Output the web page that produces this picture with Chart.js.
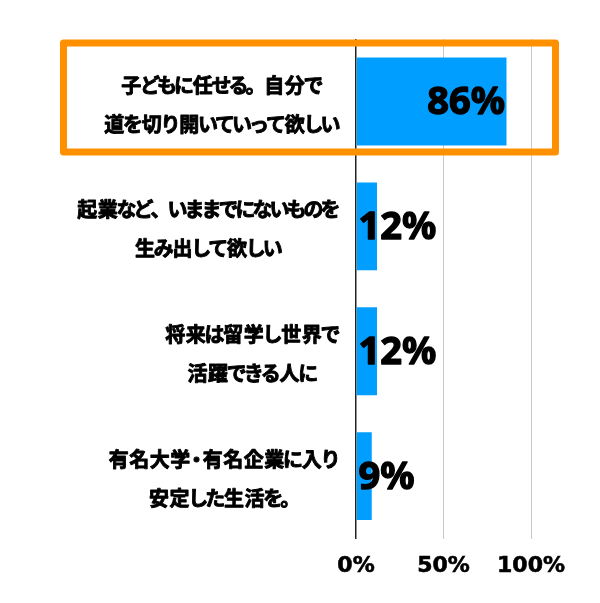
<!DOCTYPE html>
<html><head><meta charset="utf-8">
<script src="https://cdn.jsdelivr.net/npm/chart.js@4/dist/chart.umd.min.js"></script>
<style>html,body{margin:0;padding:0;background:#fff}#wrap{width:600px;height:603px}</style>
</head><body><div id="wrap"><canvas id="c"></canvas></div>
<script>
const categories = [
  ["子どもに任せる。自分で","道を切り開いていって欲しい"],
  ["起業など、いままでにないものを","生み出して欲しい"],
  ["将来は留学し世界で","活躍できる人に"],
  ["有名大学・有名企業に入り","安定した生活を。"]
];
const values = [86, 12, 12, 9];
const xTicks = [0, 50, 100];
const tickSuffix = "%";
const highlightIndex = 0;

const BAR = '#009FFF', ORANGE = '#FF9100';

function adv(ch) {
  if (/[\u4e00-\u9fff]/.test(ch)) return 20.5;
  if (ch === '・') return 12;
  return 17;
}

const overlay = {
  id: 'overlay',
  afterDatasetsDraw(chart) {
    const ctx = chart.ctx, x = chart.scales.x, y = chart.scales.y;
    const meta = chart.getDatasetMeta(0);
    // category labels
    ctx.save();
    ctx.fillStyle = '#000';
    ctx.strokeStyle = '#000';
    ctx.lineWidth = 0.9;
    ctx.lineJoin = 'round';
    ctx.font = 'bold 20px "Noto Sans CJK JP"';
    ctx.textAlign = 'center';
    ctx.textBaseline = 'middle';
    const lineW = l => [...l].reduce((s, ch) => s + adv(ch), 0);
    categories.forEach((lines, i) => {
      const cy = y.getPixelForValue(i) + 3;
      const w = Math.max(...lines.map(lineW));
      const right = x.getPixelForValue(0) - 17;
      const lh = 39;
      lines.forEach((l, j) => {
        const ly = cy + (j - (lines.length - 1) / 2) * lh;
        let px = right - w / 2 - lineW(l) / 2;
        for (const ch of l) {
          const a = adv(ch);
          ctx.fillText(ch, px + a / 2, ly);
          ctx.strokeText(ch, px + a / 2, ly);
          px += a;
        }
      });
    });
    // value labels
    ctx.font = 'bold 38px "Noto Sans"';
    ctx.fillStyle = '#000';
    ctx.lineWidth = 1.4;
    meta.data.forEach((bar, i) => {
      const txt = values[i] + '%';
      const tw = ctx.measureText(txt).width;
      const base = x.getPixelForValue(0);
      const end = bar.x;
      let tx;
      if (end - base > tw + 6) {
        ctx.textAlign = 'right'; tx = end - 1.5;
      } else {
        ctx.textAlign = 'left'; tx = base + 2.5;
      }
      ctx.fillText(txt, tx, bar.y + 2);
      ctx.strokeText(txt, tx, bar.y + 2);
    });
    // highlight box
    const cy = y.getPixelForValue(highlightIndex) - 4;
    ctx.strokeStyle = ORANGE;
    ctx.lineWidth = 7;
    ctx.strokeRect(63.5, cy - 54.5, x.getPixelForValue(100) + 24.5 - 63.5, 109);
    ctx.restore();
  }
};

new Chart(document.getElementById('c'), {
  type: 'bar',
  data: {
    labels: categories,
    datasets: [{ data: values, backgroundColor: BAR, borderWidth: 0,
      barPercentage: 0.704, categoryPercentage: 1 }]
  },
  options: {
    indexAxis: 'y',
    responsive: true, maintainAspectRatio: false, animation: false,
    devicePixelRatio: 1,
    layout: { padding: { left: 356, right: 69, top: 39, bottom: 10 } },
    plugins: { legend: { display: false }, tooltip: { enabled: false } },
    scales: {
      x: {
        min: 0, max: 100,
        afterBuildTicks(s) { s.ticks = xTicks.map(v => ({ value: v })); },
        border: { display: false },
        grid: { drawTicks: false, color: c => c.tick && c.tick.value === 0 ? '#222' : '#c8c8c8', lineWidth: c => c.tick && c.tick.value === 0 ? 1.5 : 1 },
        ticks: { padding: 14, color: '#000', textStrokeColor: '#000', textStrokeWidth: 0.6,
          font: { family: 'DejaVu Sans', weight: 'bold', size: 22 },
          callback: v => v + tickSuffix }
      },
      y: { display: false }
    }
  },
  plugins: [overlay]
});
</script></body></html>
